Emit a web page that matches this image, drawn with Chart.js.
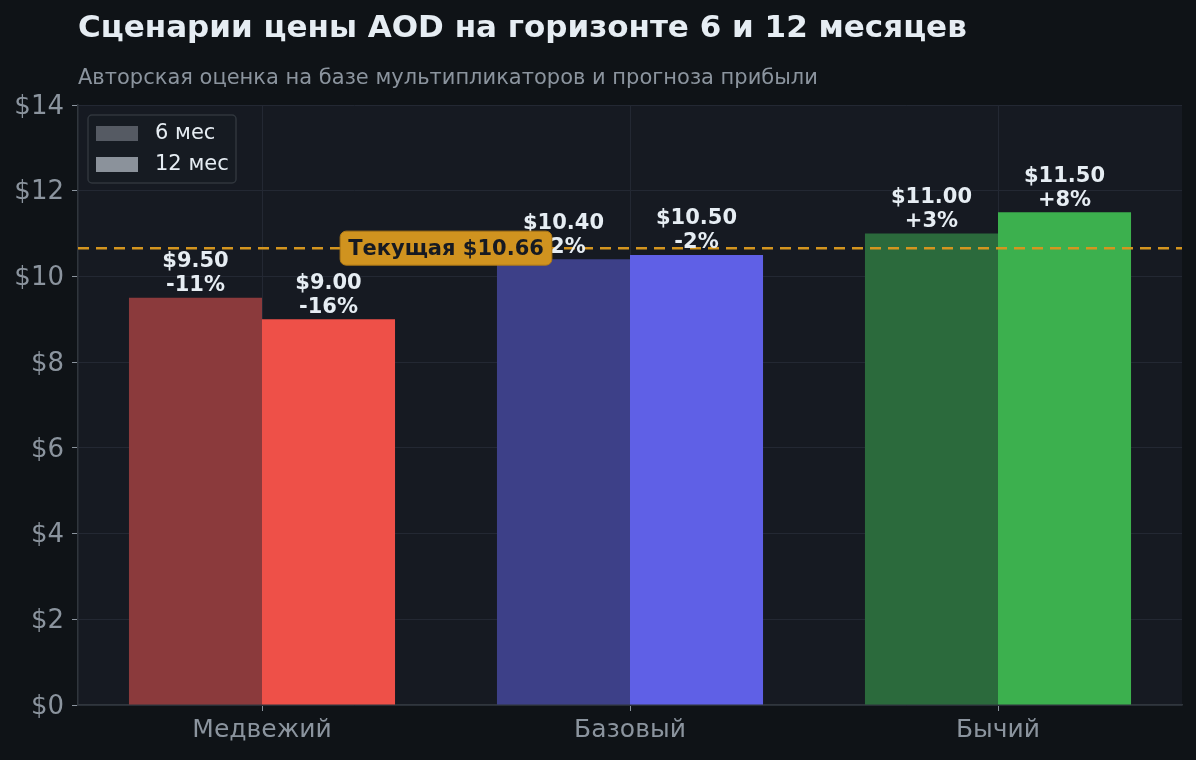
<!DOCTYPE html>
<html>
<head>
<meta charset="utf-8">
<script src="https://cdn.jsdelivr.net/npm/chart.js@4.4.0/dist/chart.umd.min.js"></script>
<style>
  html, body { margin: 0; padding: 0; background: #0f1317; }
  canvas { display: block; }
</style>
</head>
<body>
<canvas id="scenarios" width="1196" height="760"></canvas>
<script>
const scenarios = ["Медвежий", "Базовый", "Бычий"];
const horizons = ["6 мес", "12 мес"];
const price6m = [9.5, 10.4, 11.0];
const price12m = [9.0, 10.5, 11.5];
const currentPrice = 10.66;
const yTicks = [0, 2, 4, 6, 8, 10, 12, 14];

const colors6m = ['#8b3a3c', '#3d4088', '#2b6a3c'];
const colors12m = ['#ee5048', '#5f60e6', '#3cb04e'];
const legendColors = ['#555a63', '#8b929b'];

const FONT = "'DejaVu Sans', sans-serif";
const GREY = '#8b949e';

// background of page + plot area
const backdrop = {
  id: 'backdrop',
  beforeDraw(chart) {
    const { ctx, chartArea: a } = chart;
    ctx.save();
    ctx.fillStyle = '#0f1317';
    ctx.fillRect(0, 0, chart.width, chart.height);
    ctx.fillStyle = '#161a22';
    ctx.fillRect(a.left, a.top, a.right - a.left, a.bottom - a.top);
    ctx.restore();
  }
};

// title, value labels, current price line, legend
const overlay = {
  id: 'overlay',
  afterDatasetsDraw(chart) {
    const { ctx, chartArea: a, scales } = chart;
    const x = scales.x, y = scales.y;
    ctx.save();

    // titles
    ctx.textBaseline = 'middle';
    ctx.textAlign = 'left';
    ctx.fillStyle = '#e6edf3';
    ctx.font = "bold 31px " + FONT;
    ctx.fillText("Сценарии цены AOD на горизонте 6 и 12 месяцев", 78, 29);
    ctx.fillStyle = GREY;
    ctx.font = "21px " + FONT;
    ctx.fillText("Авторская оценка на базе мультипликаторов и прогноза прибыли", 78, 79);

    // current price dashed line
    const yc = y.getPixelForValue(currentPrice);
    ctx.strokeStyle = '#d4951f';
    ctx.lineWidth = 2.5;
    ctx.setLineDash([11, 7]);
    ctx.beginPath();
    ctx.moveTo(a.left, yc);
    ctx.lineTo(a.right, yc);
    ctx.stroke();
    ctx.setLineDash([]);

    // value labels above bars
    ctx.textAlign = 'center';
    ctx.fillStyle = '#e6edf3';
    ctx.font = "bold 21px " + FONT;
    chart.data.datasets.forEach((ds, di) => {
      chart.getDatasetMeta(di).data.forEach((bar, i) => {
        const v = ds.data[i];
        const pct = Math.round((v / currentPrice - 1) * 100);
        const pctText = (pct > 0 ? '+' : '') + pct + '%';
        ctx.fillText('$' + v.toFixed(2), bar.x, bar.y - 36);
        ctx.fillText(pctText, bar.x, bar.y - 12);
      });
    });

    // current price label box
    const label = 'Текущая $' + currentPrice.toFixed(2);
    ctx.font = "bold 21px " + FONT;
    const tw = ctx.measureText(label).width;
    const cx = x.getPixelForValue(0.5);
    const bw = tw + 16, bh = 34;
    ctx.fillStyle = '#d0931f';
    ctx.strokeStyle = '#b07a17';
    ctx.lineWidth = 1;
    ctx.beginPath();
    ctx.roundRect(cx - bw / 2, yc - bh / 2, bw, bh, 6);
    ctx.fill();
    ctx.stroke();
    ctx.fillStyle = '#161a22';
    ctx.fillText(label, cx, yc + 1);

    // legend
    const lx = a.left + 10, ly = a.top + 10;
    ctx.fillStyle = '#161b22';
    ctx.strokeStyle = '#30363d';
    ctx.lineWidth = 1.5;
    ctx.beginPath();
    ctx.roundRect(lx, ly, 148, 68, 4);
    ctx.fill();
    ctx.stroke();
    ctx.textAlign = 'left';
    ctx.font = "21px " + FONT;
    horizons.forEach((h, i) => {
      const rowY = ly + 18 + i * 31;
      ctx.fillStyle = legendColors[i];
      ctx.fillRect(lx + 8, rowY - 7, 42, 15);
      ctx.fillStyle = '#e6edf3';
      ctx.fillText(h, lx + 67, rowY + 1);
    });

    ctx.restore();
  }
};

new Chart(document.querySelector('#scenarios').getContext('2d'), {
  type: 'bar',
  data: {
    labels: scenarios,
    datasets: [
      { label: horizons[0], data: price6m, backgroundColor: colors6m },
      { label: horizons[1], data: price12m, backgroundColor: colors12m }
    ]
  },
  options: {
    responsive: false,
    animation: false,
    devicePixelRatio: 1,
    layout: { padding: { top: 105, right: 14, bottom: 0, left: 0 } },
    datasets: {
      bar: { barPercentage: 1, categoryPercentage: 0.723, borderWidth: 0 }
    },
    plugins: {
      legend: { display: false },
      title: { display: false },
      tooltip: { enabled: false }
    },
    scales: {
      x: {
        offset: true,
        grid: { offset: false, color: '#232833', tickColor: GREY, tickLength: 6 },
        border: { color: '#30363d', width: 1.5 },
        ticks: { color: GREY, font: { family: FONT, size: 25 }, padding: 4 },
        afterFit(scale) { scale.height = 55; }
      },
      y: {
        min: 0,
        max: 14,
        afterBuildTicks(scale) { scale.ticks = yTicks.map(v => ({ value: v })); },
        grid: { color: '#232833', tickColor: GREY, tickLength: 6 },
        border: { color: '#30363d', width: 1.5 },
        ticks: {
          color: GREY,
          font: { family: FONT, size: 26 },
          padding: 8,
          labelOffset: 2,
          callback: v => '$' + v
        },
        afterFit(scale) { scale.width = 78; }
      }
    }
  },
  plugins: [backdrop, overlay]
});
</script>
</body>
</html>
